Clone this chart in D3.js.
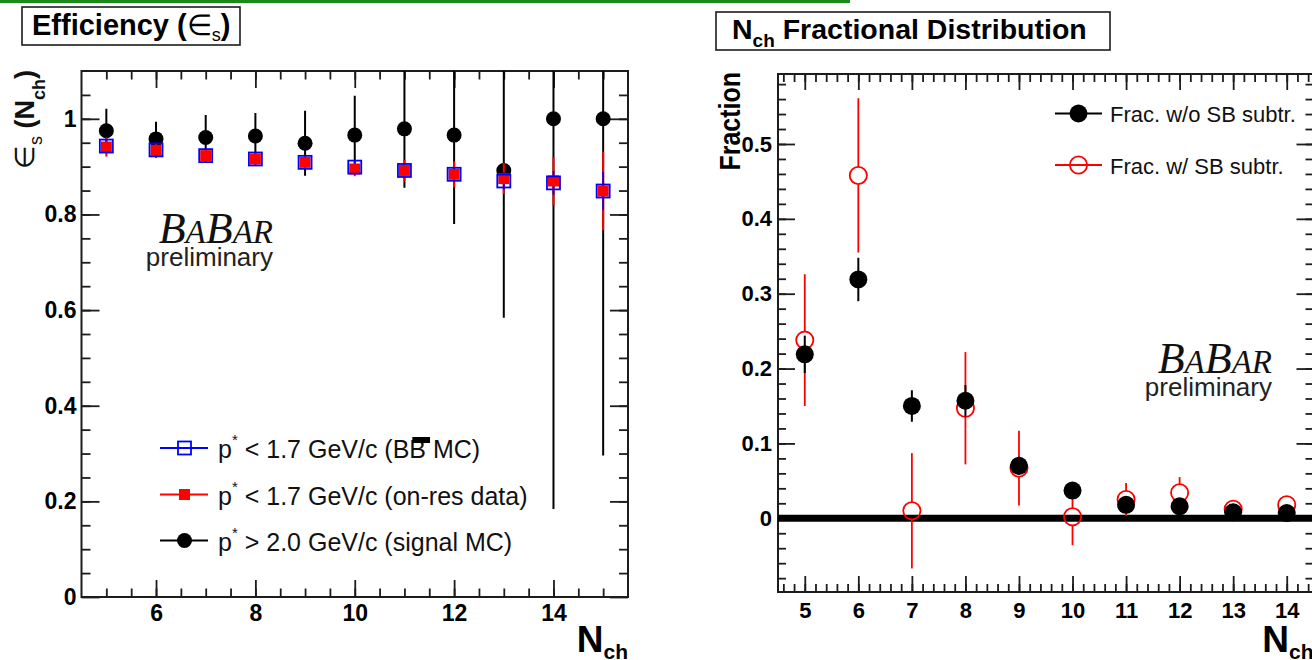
<!DOCTYPE html>
<html>
<head>
<meta charset="utf-8">
<script src="https://cdn.jsdelivr.net/npm/d3@7"></script>
<style>
  html, body { margin: 0; padding: 0; background: #fff; overflow: hidden; }
  svg { display: block; }
</style>
</head>
<body>
<svg id="chart" width="1312" height="660" font-family="'Liberation Sans', Arial, Helvetica, sans-serif"></svg>
<script>
// ---------- Efficiency vs N_ch ----------
const nchEff = [5, 6, 7, 8, 9, 10, 11, 12, 13, 14, 15];
// p* > 2.0 GeV/c (signal MC)
const effSignal    = [0.975, 0.958, 0.961, 0.964, 0.949, 0.966, 0.979, 0.966, 0.892, 1.000, 1.000];
const effSignalErr = [0.046, 0.036, 0.047, 0.048, 0.068, 0.082, 0.123, 0.186, 0.308, 0.816, 0.704];
// p* < 1.7 GeV/c (BB MC)
const effBB        = [0.943, 0.935, 0.923, 0.916, 0.909, 0.899, 0.892, 0.884, 0.870, 0.866, 0.849];
const effBBErr     = [0.012, 0.010, 0.009, 0.009, 0.010, 0.011, 0.013, 0.015, 0.018, 0.025, 0.040];
// p* < 1.7 GeV/c (on-res data)
const effData      = [0.941, 0.934, 0.923, 0.916, 0.909, 0.895, 0.892, 0.884, 0.875, 0.870, 0.849];
const effDataErr   = [0.020, 0.016, 0.014, 0.013, 0.014, 0.015, 0.022, 0.027, 0.032, 0.050, 0.082];

const effYTicks   = [0, 0.2, 0.4, 0.6, 0.8, 1];
const effXTicks   = [6, 8, 10, 12, 14];

// ---------- N_ch fractional distribution ----------
const nchFrac = [5, 6, 7, 8, 9, 10, 11, 12, 13, 14];
// without side-band subtraction
const fracRaw    = [0.219, 0.319, 0.150, 0.157, 0.070, 0.037, 0.018, 0.016, 0.008, 0.007];
const fracRawErr = [0.025, 0.029, 0.021, 0.021, 0.012, 0.008, 0.006, 0.006, 0.004, 0.004];
// with side-band subtraction
const fracSub    = [0.238, 0.458, 0.010, 0.147, 0.067, 0.002, 0.025, 0.034, 0.012, 0.018];
const fracSubErr = [0.088, 0.103, 0.077, 0.075, 0.050, 0.038, 0.022, 0.021, 0.008, 0.008];

const fracYTicks = [0, 0.1, 0.2, 0.3, 0.4, 0.5];
const fracXTicks = [5, 6, 7, 8, 9, 10, 11, 12, 13, 14];

const legendEff = [
  { label: " < 1.7 GeV/c (BB MC)",        kind: "bb" },
  { label: " < 1.7 GeV/c (on-res data)",  kind: "data" },
  { label: " > 2.0 GeV/c (signal MC)",    kind: "signal" }
];
const legendFrac = [
  { label: "Frac. w/o SB subtr.", kind: "raw" },
  { label: "Frac. w/ SB subtr.",  kind: "sub" }
];

const INK = "#1c1c1c";
const SANS = "'Liberation Sans', Arial, Helvetica, sans-serif";
const SERIF = "'Liberation Serif', 'Times New Roman', serif";
const svg = d3.select("#chart");
const fmt = d3.format("~g");

// slide banner rule
svg.append("line").attr("x1", 0).attr("x2", 850).attr("y1", 1.5).attr("y2", 1.5)
  .attr("stroke", "#1b8a1b").attr("stroke-width", 3);

// ---------- helpers ----------
function styleAxis(sel, size) {
  sel.select(".domain").remove();
  sel.selectAll(".tick line").attr("stroke", INK).attr("stroke-width", 1.8);
  sel.selectAll(".tick text")
    .attr("fill", "#000")
    .attr("font-size", size)
    .attr("font-weight", "bold")
    .attr("font-family", SANS);
}

function drawFrame(g, x, y, c) {
  const [xl, xr] = x.range();
  const [yb, yt] = y.range();
  const ax = (gen, tx, ty, vals, len, pad, labels) => {
    const a = gen.tickValues(vals).tickSize(-len).tickSizeOuter(0);
    if (labels) a.tickPadding(pad).tickFormat(d => fmt(d)); else a.tickFormat("");
    g.append("g").attr("transform", `translate(${tx},${ty})`).call(a).call(styleAxis, c.font);
  };
  // bottom / top
  ax(d3.axisBottom(x), 0, yb, c.xMinor, c.xMinLen, 0, false);
  ax(d3.axisBottom(x), 0, yb, c.xMajor, c.xMajLen, c.xPad, true);
  ax(d3.axisTop(x), 0, yt, c.xMinor, c.xMinLen, 0, false);
  ax(d3.axisTop(x), 0, yt, c.xMajor, c.xMajLen, 0, false);
  // left / right
  ax(d3.axisLeft(y), xl, 0, c.yMinor, c.yMinLen, 0, false);
  ax(d3.axisLeft(y), xl, 0, c.yMajor, c.yMajLen, c.yPad, true);
  ax(d3.axisRight(y), xr, 0, c.yMinor, c.yMinLen, 0, false);
  ax(d3.axisRight(y), xr, 0, c.yMajor, c.yMajLen, 0, false);
  g.append("rect").attr("x", xl).attr("y", yt).attr("width", xr - xl).attr("height", yb - yt)
    .attr("fill", "none").attr("stroke", INK).attr("stroke-width", 2);
}

function clipFor(id, x, y) {
  const [xl, xr] = x.range();
  const [yb, yt] = y.range();
  svg.append("clipPath").attr("id", id).append("rect")
    .attr("x", xl).attr("y", yt).attr("width", xr - xl).attr("height", yb - yt);
  return svg.append("g").attr("clip-path", `url(#${id})`);
}

// vertical error bar that stops at the marker edge
function errorBars(g, xs, vals, errs, x, y, color, gap, width) {
  xs.forEach((n, i) => {
    const cx = x(n), cy = y(vals[i]);
    const top = y(vals[i] + errs[i]), bot = y(vals[i] - errs[i]);
    if (cy - gap > top) g.append("line").attr("x1", cx).attr("x2", cx).attr("y1", top).attr("y2", cy - gap)
      .attr("stroke", color).attr("stroke-width", width);
    if (bot > cy + gap) g.append("line").attr("x1", cx).attr("x2", cx).attr("y1", cy + gap).attr("y2", bot)
      .attr("stroke", color).attr("stroke-width", width);
  });
}

function marker(g, kind, cx, cy) {
  switch (kind) {
    case "signal":
      g.append("circle").attr("cx", cx).attr("cy", cy).attr("r", 7.5).attr("fill", "#000"); break;
    case "data":
      g.append("rect").attr("x", cx - 5.5).attr("y", cy - 5.5).attr("width", 11).attr("height", 11).attr("fill", "#ff0000"); break;
    case "bb":
      g.append("rect").attr("x", cx - 6.5).attr("y", cy - 6.5).attr("width", 13).attr("height", 13)
        .attr("fill", "none").attr("stroke", "#0000ff").attr("stroke-width", 1.8); break;
    case "raw":
      g.append("circle").attr("cx", cx).attr("cy", cy).attr("r", 9).attr("fill", "#000"); break;
    case "sub":
      g.append("circle").attr("cx", cx).attr("cy", cy).attr("r", 8.6).attr("fill", "none")
        .attr("stroke", "#ff0000").attr("stroke-width", 1.8); break;
  }
}

function titleBox(x, y, w, h) {
  svg.append("rect").attr("x", x).attr("y", y).attr("width", w).attr("height", h)
    .attr("fill", "#fff").attr("stroke", INK).attr("stroke-width", 1.6);
}

function babar(xRight, yBase) {
  const t = svg.append("text").attr("x", xRight).attr("y", yBase).attr("text-anchor", "end")
    .attr("font-family", SERIF).attr("font-style", "italic").attr("fill", "#111");
  t.append("tspan").attr("font-size", 44).text("B");
  t.append("tspan").attr("font-size", 33).text("A");
  t.append("tspan").attr("font-size", 44).text("B");
  t.append("tspan").attr("font-size", 33).text("AR");
  svg.append("text").attr("x", xRight).attr("y", yBase + 23).attr("text-anchor", "end")
    .attr("font-size", 26).attr("fill", "#222").text("preliminary");
}

function nchLabel(xRight, yBase) {
  const t = svg.append("text").attr("x", xRight).attr("y", yBase).attr("text-anchor", "end")
    .attr("font-weight", "bold");
  t.append("tspan").attr("font-size", 37).text("N");
  t.append("tspan").attr("font-size", 21).attr("dy", 7).text("ch");
}

// =============== Left panel: efficiency ===============
const xE = d3.scaleLinear().domain([4.5, 15.5]).range([81.5, 628]);
const yE = d3.scaleLinear().domain([0, 1.1]).range([597, 71]);

drawFrame(svg.append("g"), xE, yE, {
  font: 23,
  xMajor: effXTicks, xMinor: d3.range(5, 15.5, 0.5), xMajLen: 17, xMinLen: 8.5, xPad: 8,
  yMajor: effYTicks, yMinor: d3.range(0.05, 1.1, 0.05), yMajLen: 18, yMinLen: 9, yPad: 5
});

const gE = clipFor("clipEff", xE, yE);
errorBars(gE, nchEff, effSignal, effSignalErr, xE, yE, "#000", 0, 2);
nchEff.forEach((n, i) => marker(gE, "signal", xE(n), yE(effSignal[i])));
errorBars(gE, nchEff, effData, effDataErr, xE, yE, "#ff0000", 0, 2);
errorBars(gE, nchEff, effBB, effBBErr, xE, yE, "#0000ff", 0, 1.6);
nchEff.forEach((n, i) => marker(gE, "data", xE(n), yE(effData[i])));
nchEff.forEach((n, i) => marker(gE, "bb", xE(n), yE(effBB[i])));

// legend
const legEffY = [448, 494.5, 540.5];
const legColor = { bb: "#0000ff", data: "#ff0000", signal: "#000" };
legendEff.forEach((d, i) => {
  const cy = legEffY[i];
  svg.append("line").attr("x1", 160).attr("x2", 208).attr("y1", cy).attr("y2", cy)
    .attr("stroke", legColor[d.kind]).attr("stroke-width", 1.8);
  marker(svg, d.kind, 184.5, cy);
  const t = svg.append("text").attr("x", 218).attr("y", cy + 10).attr("font-size", 25).attr("fill", "#111");
  t.append("tspan").text("p");
  t.append("tspan").attr("font-size", 15).attr("dy", -13).text("*");
  t.append("tspan").attr("dy", 13).text(d.label);
  if (d.kind === "bb") {
    // bar over the second B of "BB"
    const full = "p*" + d.label;
    const idx = full.indexOf("BB") + 1;
    const ext = t.node().getExtentOfChar(idx);
    svg.append("rect").attr("x", ext.x + 3).attr("y", cy + 10 - 21)
      .attr("width", ext.width + 1).attr("height", 6).attr("fill", "#000");
  }
});

babar(273, 243);

// axis titles
(function () {
  const t = svg.append("text").attr("transform", "translate(34,70) rotate(-90)")
    .attr("text-anchor", "end").attr("font-size", 27).attr("fill", "#111");
  t.append("tspan").text("\u2208");
  t.append("tspan").attr("font-size", 18).attr("dy", 8).text("s");
  t.append("tspan").attr("dy", -8).attr("font-weight", "bold").text(" (N");
  t.append("tspan").attr("font-size", 18).attr("font-weight", "bold").attr("dy", 11).text("ch");
  t.append("tspan").attr("dy", -11).attr("font-weight", "bold").text(")");
})();
nchLabel(628, 652);

// title
titleBox(22, 7, 218, 38);
(function () {
  const t = svg.append("text").attr("x", 32).attr("y", 35).attr("font-size", 29).attr("font-weight", "bold");
  t.append("tspan").text("Efficiency (");
  t.append("tspan").attr("font-weight", "normal").text("\u2208");
  t.append("tspan").attr("font-weight", "normal").attr("font-size", 18).attr("dy", 6).text("s");
  t.append("tspan").attr("dy", -6).text(")");
})();

// =============== Right panel: fractional distribution ===============
const xF = d3.scaleLinear().domain([4.5, 14.5]).range([778, 1313.5]);
const yF = d3.scaleLinear().domain([-0.0985, 0.5935]).range([592, 74]);

drawFrame(svg.append("g"), xF, yF, {
  font: 22,
  xMajor: fracXTicks, xMinor: d3.range(4.6, 14.5, 0.2), xMajLen: 16, xMinLen: 8, xPad: 10,
  yMajor: fracYTicks, yMinor: d3.range(-0.08, 0.59, 0.02), yMajLen: 17, yMinLen: 8, yPad: 6
});

const gF = clipFor("clipFrac", xF, yF);
// zero reference line
gF.append("line").attr("x1", xF.range()[0]).attr("x2", xF.range()[1])
  .attr("y1", yF(0)).attr("y2", yF(0)).attr("stroke", "#000").attr("stroke-width", 7);
errorBars(gF, nchFrac, fracSub, fracSubErr, xF, yF, "#ff0000", 8.6, 1.8);
nchFrac.forEach((n, i) => marker(gF, "sub", xF(n), yF(fracSub[i])));
errorBars(gF, nchFrac, fracRaw, fracRawErr, xF, yF, "#000", 0, 2);
nchFrac.forEach((n, i) => marker(gF, "raw", xF(n), yF(fracRaw[i])));

// legend
const legFracY = [113.5, 165];
legendFrac.forEach((d, i) => {
  const cy = legFracY[i];
  const col = d.kind === "raw" ? "#000" : "#ff0000";
  svg.append("line").attr("x1", 1055).attr("x2", 1102).attr("y1", cy).attr("y2", cy)
    .attr("stroke", col).attr("stroke-width", 1.8);
  marker(svg, d.kind, 1078.5, cy);
  svg.append("text").attr("x", 1110).attr("y", cy + 8.5).attr("font-size", 22).attr("fill", "#111").text(d.label);
});

babar(1272, 373);

svg.append("text").attr("transform", "translate(740,72) scale(1.15,1) rotate(-90)")
  .attr("text-anchor", "end").attr("font-size", 25).attr("font-weight", "bold").text("Fraction");
nchLabel(1313.5, 652);

titleBox(716, 12, 394, 38);
(function () {
  const t = svg.append("text").attr("x", 732).attr("y", 39).attr("font-size", 28.5).attr("font-weight", "bold");
  t.append("tspan").text("N");
  t.append("tspan").attr("font-size", 19).attr("dy", 8).text("ch");
  t.append("tspan").attr("dy", -8).text(" Fractional Distribution");
})();
</script>
</body>
</html>
